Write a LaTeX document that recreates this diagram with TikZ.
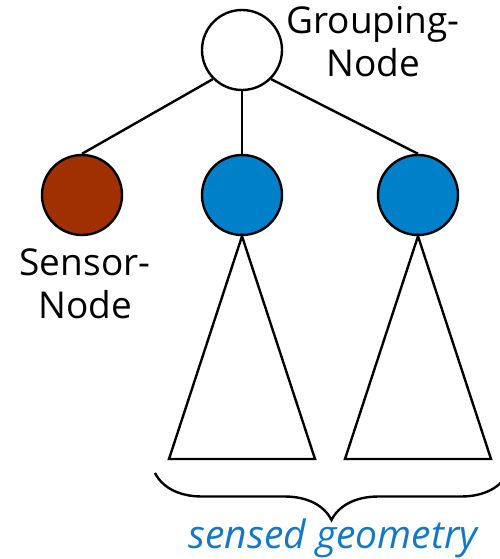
\documentclass[tikz,border=0pt]{standalone}
\usepackage{fontspec}
\setmainfont{Open Sans}
\usetikzlibrary{decorations.pathreplacing}
\definecolor{nodeblue}{RGB}{0,128,200}
\definecolor{nodebrown}{RGB}{160,48,0}
\definecolor{textblue}{RGB}{20,120,196}
\tikzset{
  treenode/.style={circle,draw=black,line width=2.4pt,minimum size=80pt,inner sep=0pt},
  edge/.style={line width=2.4pt,black},
  lbl/.style={font=\fontsize{37}{43}\selectfont,align=center,inner sep=0pt,anchor=base},
}
\begin{document}
\begin{tikzpicture}[x=1pt,y=-1pt]
\useasboundingbox (0,0) rectangle (499,559);
\node[treenode,fill=white] (g) at (242,50) {};
\node[treenode,fill=nodebrown] (s) at (82,195) {};
\node[treenode,fill=nodeblue] (b1) at (242,195) {};
\node[treenode,fill=nodeblue] (b2) at (418,195) {};
\draw[edge] (g.south west) -- (s.north);
\draw[edge] (g.south) -- (b1.north);
\draw[edge] (g.south east) -- (b2.north);
\coordinate (t1l) at (169,459);
\coordinate (t1r) at (315,459);
\coordinate (t2l) at (345,459);
\coordinate (t2r) at (491,459);
\draw[edge,line join=miter] (b1.south) -- (t1r) -- (t1l) -- cycle;
\draw[edge,line join=miter] (b2.south) -- (t2r) -- (t2l) -- cycle;
\node[lbl] (gl) at (373,77) {Grouping-\\Node};
\node[lbl] (sl) at (85,318) {Sensor-\\Node};
\coordinate (br) at (508,473);
\coordinate (bl) at (155,473);
\draw[edge,decorate,decoration={brace,amplitude=47pt}] (br) -- (bl);
\node[lbl,font=\fontsize{39}{43}\selectfont\itshape,text=textblue] (sg) at (333,548) {sensed geometry};
\end{tikzpicture}
\end{document}
